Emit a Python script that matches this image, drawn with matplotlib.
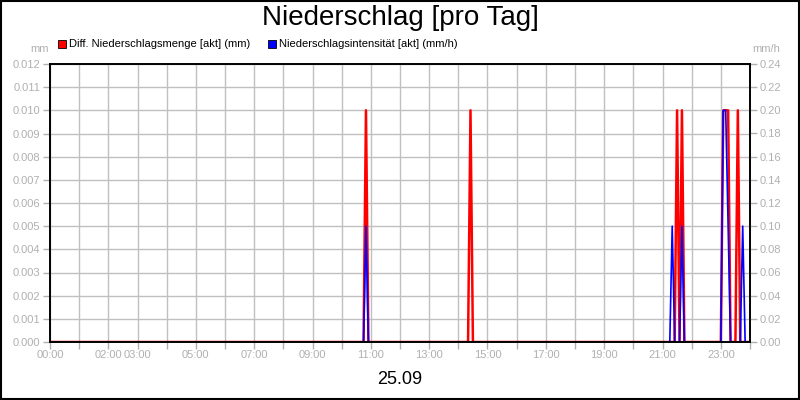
import numpy as np
import matplotlib
matplotlib.use("Agg")
import matplotlib.pyplot as plt
from matplotlib.patches import Rectangle

plt.rcParams['font.family'] = ['Liberation Sans', 'DejaVu Sans']

# 5-Minuten-Werte, nur die Zeitpunkte mit Niederschlag (sonst 0)
red_times = ["10:50", "14:25", "21:30", "21:40", "23:05", "23:10", "23:15", "23:35"]
red_vals = [0.01, 0.01, 0.01, 0.01, 0.01, 0.01, 0.01, 0.01]          # mm
blue_times = ["10:50", "21:20", "21:40", "23:05", "23:10", "23:15", "23:45"]
blue_vals = [0.1, 0.1, 0.1, 0.2, 0.2, 0.1, 0.1]                        # mm/h

xtick_labels = ["00:00", "02:00", "03:00", "05:00", "07:00", "09:00", "11:00",
                "13:00", "15:00", "17:00", "19:00", "21:00", "23:00"]
left_ticks = [0.000, 0.001, 0.002, 0.003, 0.004, 0.005, 0.006, 0.007, 0.008,
              0.009, 0.010, 0.011, 0.012]
right_ticks = [0.00, 0.02, 0.04, 0.06, 0.08, 0.10, 0.12, 0.14, 0.16, 0.18,
               0.20, 0.22, 0.24]


def to_hours(s):
    h, m = s.split(":")
    return int(h) + int(m) / 60


def serie(times, vals):
    t = np.arange(0, 24 * 12 + 1) / 12
    y = np.zeros_like(t)
    for s, v in zip(times, vals):
        y[int(round(to_hours(s) * 12))] = v
    return t, y


grau = "#b0b0b0"
gitter = "#c0c0c0"

fig = plt.figure(figsize=(8, 4), dpi=100)
ax = fig.add_axes([50 / 800, 1 - 342 / 400, 700 / 800, 278 / 400])
ax2 = ax.twinx()

t, yr = serie(red_times, red_vals)
ax.plot(t, yr, color="#ff0000", lw=1.8)
t, yb = serie(blue_times, blue_vals)
linie, = ax2.plot(t, yb, color="#0000ff", lw=1.2)
# blaue Nulllinie verschwindet hinter der roten
linie.set_clip_path(Rectangle((0, 1.3 / 278), 1, 1, transform=ax2.transAxes))

ax.set_xlim(0, 24)
ax.set_ylim(0, 0.012)
ax2.set_ylim(0, 0.24)

ax.set_xticks(range(0, 25))
ax.set_xticklabels([""] * 25)
for lab in xtick_labels:
    ax.text(to_hours(lab), -0.045, lab, transform=ax.get_xaxis_transform(),
            ha="center", va="center", fontsize=8, color=grau)

ax.set_yticks(left_ticks)
ax.set_yticklabels(["%.3f" % v for v in left_ticks])
ax2.set_yticks(right_ticks)
ax2.set_yticklabels(["%.2f" % v for v in right_ticks])

for a in (ax, ax2):
    a.tick_params(axis="both", colors=grau, labelcolor=grau, labelsize=8,
                  length=5, width=1, pad=2)
    for sp in a.spines.values():
        sp.set_color("black")
        sp.set_linewidth(1.2)

ax.grid(True, color=gitter, lw=1)
ax.set_axisbelow(True)

fig.text(0.5, 1 - 18 / 400, "Niederschlag [pro Tag]", ha="center", va="center",
         fontsize=20)
fig.text(0.5, 1 - 380 / 400, "25.09", ha="center", va="center", fontsize=13)
fig.text(40 / 800, 1 - 49 / 400, "mm", ha="center", va="center", fontsize=8, color=grau)
fig.text(766 / 800, 1 - 49 / 400, "mm/h", ha="center", va="center", fontsize=8, color=grau)

# Legende
for x0, farbe, txt in [(58, "#ff0000", "Diff. Niederschlagsmenge [akt] (mm)"),
                       (268, "#0000ff", "Niederschlagsintensität [akt] (mm/h)")]:
    fig.add_artist(Rectangle((x0 / 800, 1 - 48 / 400), 8 / 800, 8 / 400,
                             transform=fig.transFigure, facecolor=farbe,
                             edgecolor="black", lw=0.6))
    fig.text((x0 + 11) / 800, 1 - 44 / 400, txt, ha="left", va="center", fontsize=8)

# Rahmen um das Bild
fig.add_artist(Rectangle((0.001, 0.002), 0.998, 0.996, transform=fig.transFigure,
                         fill=False, edgecolor="black", lw=1.5))

plt.savefig("out.png", dpi=100)
plt.close(fig)
